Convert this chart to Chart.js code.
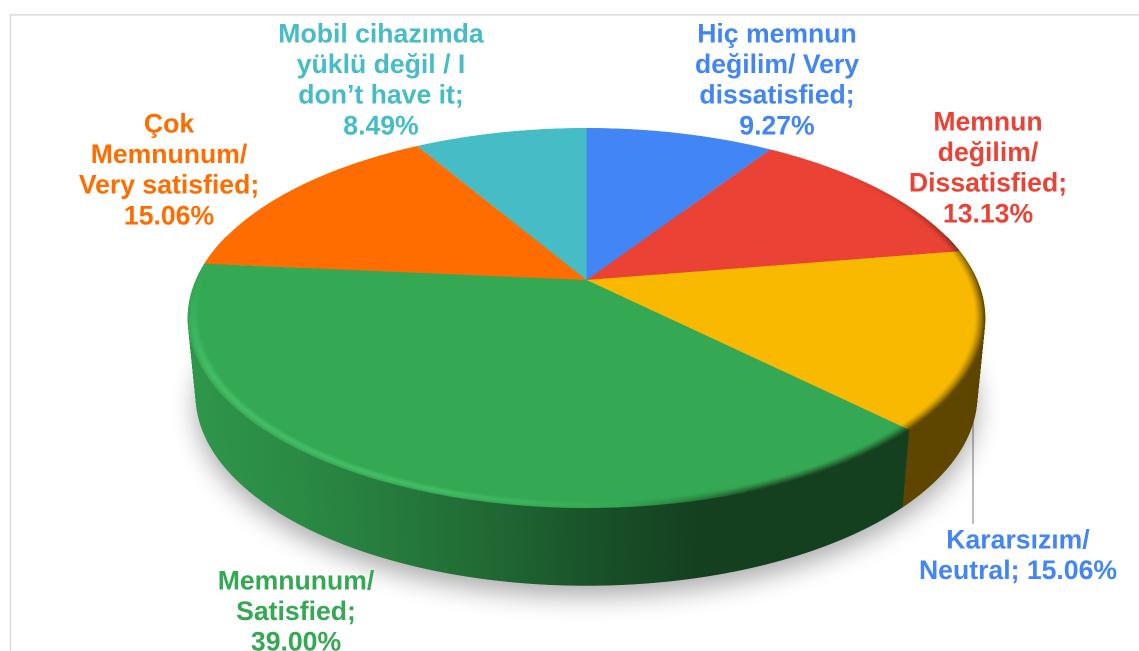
<!DOCTYPE html>
<html>
<head>
<meta charset="utf-8">
<style>html,body{margin:0;padding:0;background:#fff}canvas{display:block}</style>
<script src="https://cdn.jsdelivr.net/npm/chart.js@4"></script>
</head>
<body>
<canvas id="c" width="1139" height="651"></canvas>
<script>
const categories = [
  ["Hiç memnun","değilim/ Very","dissatisfied;"],
  ["Memnun","değilim/","Dissatisfied;"],
  ["Kararsızım/","Neutral;"],
  ["Memnunum/","Satisfied;"],
  ["Çok","Memnunum/","Very satisfied;"],
  ["Mobil cihazımda","yüklü değil / I","don’t have it;"]
];
const values = [9.27, 13.13, 15.06, 39.00, 15.06, 8.49];
const sliceColors = ["#4285F4","#EA4335","#F8B900","#34A853","#FF6D01","#46BDC6"];
const labelColors = ["#4285F4","#EA4335","#4285F4","#34A853","#FF6D01","#46BDC6"];
const labelCenters = [[777,35],[988,123],[1018,541],[296,582],[169,125],[381,35]];
const LINE_H = 30.7;
const FONT = 'bold 26.6px "Liberation Sans", Arial, sans-serif';

// Projection of the flat pie on to a tilted plane
const CX = 586.5, CY = 280, K = 390.5, A = 126.4, C = -0.2;
const DEPTH = 77.5, BOTTOM_SCALE = 0.98;
const S = 2;
function proj(u, v){ const d = 1 + C*v; return [CX + K*u/d, (CY + A*v)/d]; }
function lower(p){ return [CX + (p[0]-CX)*BOTTOM_SCALE, p[1] + DEPTH]; }
const shadeStops = [[190,.90],[300,.82],[400,.72],[500,.61],[600,.48],[700,.38],[1000,.38]];
function shade(x){
  if (x <= shadeStops[0][0]) return shadeStops[0][1];
  for (let i=1;i<shadeStops.length;i++){
    const a=shadeStops[i-1], b=shadeStops[i];
    if (x<=b[0]) return a[1]+(b[1]-a[1])*(x-a[0])/(b[0]-a[0]);
  }
  return .38;
}
function rgb(h){ return [1,3,5].map(i=>parseInt(h.substr(i,2),16)); }

function ringPath(g, r){
  const n=360;
  for(let i=0;i<=n;i++){
    const a=i/n*2*Math.PI, p=proj(r*Math.cos(a),r*Math.sin(a));
    i?g.lineTo(p[0],p[1]):g.moveTo(p[0],p[1]);
  }
  g.closePath();
}
// soft rim band drawn as concentric rings, then masked by x and y ramps
function bevelLayer(W,H,color,profile,width,layers,xStops,yStops){
  const c=document.createElement('canvas'); c.width=W; c.height=H;
  const g=c.getContext('2d'); g.setTransform(S,0,0,S,0,0);
  const dr=width/layers;
  for(let l=0;l<layers;l++){
    const r0=1-l*dr, r1=1-(l+1)*dr;
    g.fillStyle=`rgba(${color},${profile((l+.5)/layers)})`;
    g.beginPath(); ringPath(g,r0); ringPath(g,r1); g.fill('evenodd');
  }
  g.globalCompositeOperation='destination-in';
  const gx=g.createLinearGradient(xStops[0],0,xStops[1],0);
  gx.addColorStop(0,`rgba(0,0,0,${xStops[2]})`); gx.addColorStop(1,`rgba(0,0,0,${1-xStops[2]})`);
  g.fillStyle=gx; g.fillRect(0,0,W,H);
  const gy=g.createLinearGradient(0,yStops[0],0,yStops[1]);
  gy.addColorStop(0,'rgba(0,0,0,0)'); gy.addColorStop(1,'rgba(0,0,0,1)');
  g.fillStyle=gy; g.fillRect(0,0,W,H);
  return c;
}

const tiltPlugin = {
  id:'tilt',
  afterDatasetsDraw(chart){
    const ctx = chart.ctx, cv = chart.canvas, W = cv.width, H = cv.height;
    const arcs = chart.getDatasetMeta(0).data;
    const cx0 = arcs[0].x, cy0 = arcs[0].y, R = arcs[0].outerRadius;
    const off = document.createElement('canvas'); off.width=W; off.height=H;
    off.getContext('2d').drawImage(cv,0,0);

    ctx.save();
    ctx.setTransform(1,0,0,1,0,0);
    ctx.clearRect(0,0,W,H);
    ctx.setTransform(S,0,0,S,0,0);
    ctx.fillStyle='#fff'; ctx.fillRect(0,0,W,H);

    // frame
    ctx.strokeStyle='#dcdcdc'; ctx.lineWidth=1.6;
    ctx.beginPath(); ctx.moveTo(10.5,651); ctx.lineTo(10.5,14.8); ctx.lineTo(1139,14.8); ctx.stroke();

    // leader line
    ctx.strokeStyle='#a6a6a6'; ctx.lineWidth=1.5;
    ctx.beginPath(); ctx.moveTo(973,420); ctx.lineTo(973,524); ctx.stroke();

    // cast shadow
    ctx.save();
    ctx.shadowColor='rgba(0,0,0,0.32)'; ctx.shadowBlur=50; ctx.shadowOffsetY=22;
    ctx.fillStyle='#888';
    ctx.beginPath();
    for(let i=0;i<=180;i++){ const a=i/180*2*Math.PI, p=lower(proj(Math.cos(a),Math.sin(a))); i?ctx.lineTo(p[0],p[1]):ctx.moveTo(p[0],p[1]); }
    ctx.closePath(); ctx.fill();
    ctx.restore();

    // side wall from each arc's angles
    arcs.forEach((arc,idx)=>{
      const base = rgb(sliceColors[idx]);
      const n = Math.max(2,Math.ceil((arc.endAngle-arc.startAngle)/0.006));
      for(let i=0;i<n;i++){
        const a0=arc.startAngle+(arc.endAngle-arc.startAngle)*i/n;
        const a1=arc.startAngle+(arc.endAngle-arc.startAngle)*(i+1)/n;
        if (Math.sin(a0)<-0.25 && Math.sin(a1)<-0.25) continue;
        const p0=proj(Math.cos(a0),Math.sin(a0)), p1=proj(Math.cos(a1),Math.sin(a1));
        const q0=lower(p0), q1=lower(p1);
        const f=shade((p0[0]+p1[0])/2);
        ctx.fillStyle=`rgb(${base.map(c=>Math.round(c*f)).join(',')})`;
        ctx.strokeStyle=ctx.fillStyle; ctx.lineWidth=0.5;
        ctx.beginPath();
        ctx.moveTo(p0[0],p0[1]); ctx.lineTo(p1[0],p1[1]); ctx.lineTo(q1[0],q1[1]); ctx.lineTo(q0[0],q0[1]);
        ctx.closePath(); ctx.fill(); ctx.stroke();
      }
    });

    // warped top face, row by row
    ctx.setTransform(1,0,0,1,0,0);
    ctx.imageSmoothingEnabled=true; ctx.imageSmoothingQuality='high';
    const vOf = y => (y-CY)/(A-C*y);
    const yTop=Math.floor(proj(0,-1)[1]*S)-1, yBot=Math.ceil(proj(0,1)[1]*S)+1;
    for(let dy=yTop;dy<yBot;dy++){
      const v=vOf((dy+.5)/S), v0=vOf(dy/S), v1=vOf((dy+1)/S);
      if (v1<-1.01||v0>1.01) continue;
      const d=1+C*v;
      const sy=(cy0+v0*R)*S, sh=(v1-v0)*R*S;
      const dx=CX+K*((0-cx0)/R)/d;
      const dw=K*((W/S)/R)/d;
      ctx.drawImage(off,0,sy,W,sh,dx*S,dy,dw*S,1);
    }

    // rim bevel on the top face
    const dark=bevelLayer(W,H,'15,12,0',t=>0.72*Math.pow(1-t,1.4),0.026,14,[620,770,0],[170,290]);
    const light=bevelLayer(W,H,'120,255,160',t=>0.26*Math.exp(-Math.pow((t-.45)/.32,2)),0.03,14,[430,640,1],[270,370]);
    ctx.drawImage(dark,0,0);
    ctx.drawImage(light,0,0);
    ctx.setTransform(S,0,0,S,0,0);

    // labels
    ctx.font=FONT; ctx.textAlign='center'; ctx.textBaseline='middle';
    categories.forEach((lines,i)=>{
      const all=lines.slice();
      const pct=values[i].toFixed(2)+'%';
      if(i===2) all[1]=all[1]+' '+pct; else all.push(pct);
      ctx.fillStyle=labelColors[i];
      all.forEach((t,j)=>ctx.fillText(t,labelCenters[i][0],labelCenters[i][1]+j*LINE_H));
    });
    ctx.restore();
  }
};

new Chart(document.getElementById('c'),{
  type:'pie',
  data:{
    labels:categories.map(l=>l.join(' ')),
    datasets:[{data:values,backgroundColor:sliceColors,borderWidth:0}]
  },
  options:{
    responsive:false,
    devicePixelRatio:S,
    animation:false,
    events:[],
    plugins:{legend:{display:false},tooltip:{enabled:false},title:{display:false}}
  },
  plugins:[tiltPlugin]
});
</script>
</body>
</html>
